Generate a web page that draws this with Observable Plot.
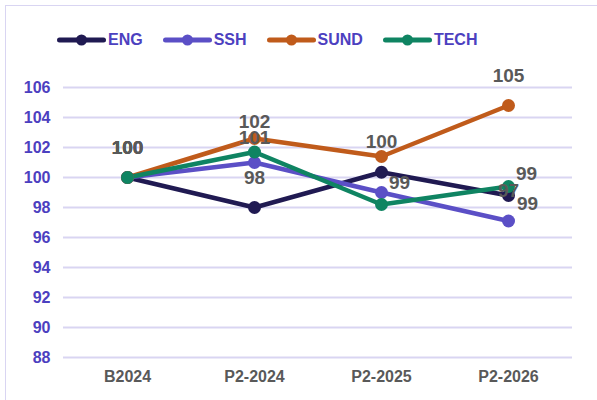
<!DOCTYPE html>
<html><head><meta charset="utf-8">
<script src="https://cdn.jsdelivr.net/npm/d3@7"></script>
<script src="https://cdn.jsdelivr.net/npm/@observablehq/plot@0.6"></script>
<style>
body{margin:0;width:597px;height:400px;overflow:hidden;background:#fff;font-family:"Liberation Sans",Arial,sans-serif;position:relative}
#frame{position:absolute;left:5px;top:5px;width:700px;height:500px;border:1.5px solid #d9d5f2;box-sizing:border-box}
#legend{position:absolute;top:31px;left:57px;height:18px;display:flex;align-items:center;gap:20px;font-weight:bold;font-size:16px;color:#4c40c0;z-index:2}
.item{display:flex;align-items:center;gap:2px}
.item svg{display:block}
#chart{position:absolute;left:0;top:0;z-index:1}
</style></head><body>
<div id="frame"></div>
<div id="chart"></div>
<div id="legend"></div>
<script>
const categories = ["B2024", "P2-2024", "P2-2025", "P2-2026"];
const seriesNames = ["ENG", "SSH", "SUND", "TECH"];
const seriesColors = ["#201a52", "#5b4fc6", "#c05b1b", "#0f8462"];
const engValues  = [100, 98.0, 100.35, 98.8];
const sshValues  = [100, 101.0, 99.0, 97.1];
const sundValues = [100, 102.6, 101.4, 104.8];
const techValues = [100, 101.7, 98.2, 99.4];
// which data labels are shown, and where they sit relative to the point
const engLabelPos  = ["above", "above", "above", "belowright"];
const sshLabelPos  = ["above", "aboveclose", "right", "above"];
const sundLabelPos = ["above", null, null, "above"];
const techLabelPos = ["above", "above", null, "aboveright"];
const yTicks = [88, 90, 92, 94, 96, 98, 100, 102, 104, 106];

const allValues = [engValues, sshValues, sundValues, techValues];
const allLabelPos = [engLabelPos, sshLabelPos, sundLabelPos, techLabelPos];

const rows = [];
seriesNames.forEach((s, i) => allValues[i].forEach((v, j) =>
  rows.push({series: s, category: categories[j], value: v, pos: allLabelPos[i][j]})));

const placements = {
  above: {dx: 0, dy: -30},
  aboveclose: {dx: 0, dy: -25},
  right: {dx: 18, dy: -10},
  aboveright: {dx: 18, dy: -13},
  belowright: {dx: 19, dy: 8}
};
const fmt = d3.format(".0f");
const labelMarks = Object.entries(placements).map(([k, o]) =>
  Plot.text(rows.filter(r => r.pos === k), {
    x: "category", y: "value", text: d => fmt(d.value),
    dx: o.dx, dy: o.dy, lineAnchor: "middle", textAnchor: "middle",
    fill: "#595959", fontSize: 19, fontWeight: "bold"
  }));

const chart = Plot.plot({
  width: 597, height: 400,
  marginLeft: 63, marginRight: 25, marginTop: 87, marginBottom: 43,
  x: {type: "point", domain: categories, padding: 0.5, label: null},
  y: {domain: [88, 106], label: null},
  color: {domain: seriesNames, range: seriesColors},
  style: {fontFamily: "Liberation Sans, Arial, sans-serif", background: "transparent", overflow: "visible"},
  marks: [
    Plot.gridY(yTicks, {stroke: "#d9d5f2", strokeOpacity: 1, strokeWidth: 2}),
    Plot.axisY(yTicks, {tickSize: 0, tickPadding: 13, fontSize: 16, fontWeight: "bold", color: "#4c40c0"}),
    Plot.axisX({tickSize: 0, tickPadding: 13, fontSize: 16, fontWeight: "bold", color: "#595959"}),
    Plot.line(rows, {x: "category", y: "value", z: "series", stroke: "series", strokeWidth: 4.5}),
    Plot.dot(rows, {x: "category", y: "value", fill: "series", r: 6.5}),
    ...labelMarks
  ]
});
document.getElementById("chart").appendChild(chart);

const legend = document.getElementById("legend");
seriesNames.forEach((s, i) => {
  const item = document.createElement("div");
  item.className = "item";
  item.innerHTML = `<svg width="49" height="14"><line x1="2.5" x2="46.5" y1="7" y2="7" stroke="${seriesColors[i]}" stroke-width="5" stroke-linecap="round"/><circle cx="24.5" cy="7" r="5.5" fill="${seriesColors[i]}"/></svg><span>${s}</span>`;
  legend.appendChild(item);
});
</script>
</body></html>
